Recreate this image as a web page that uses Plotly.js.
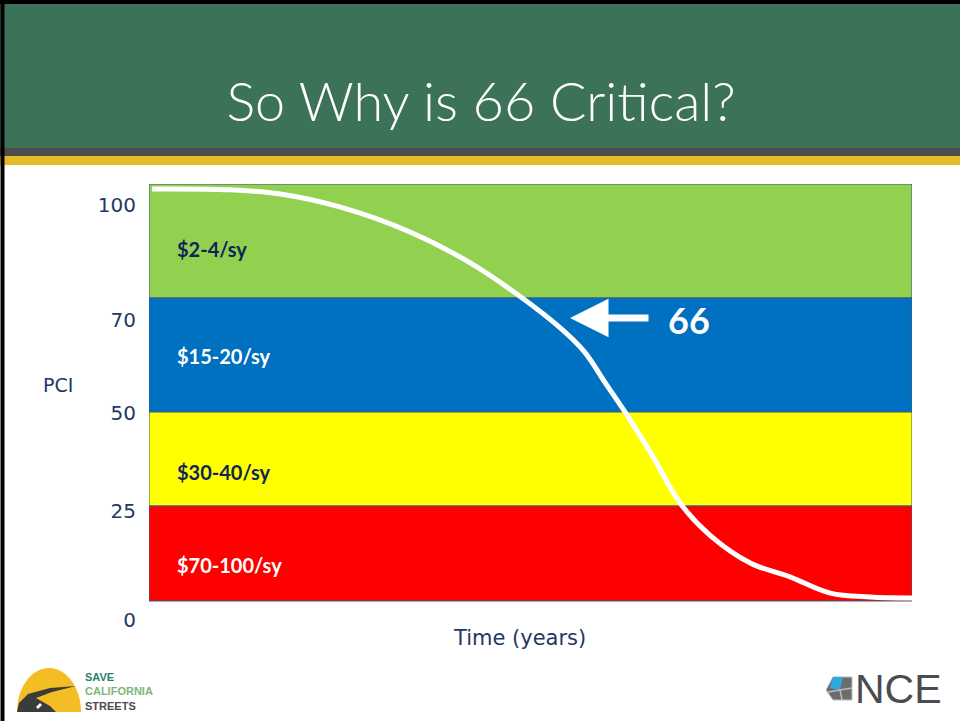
<!DOCTYPE html>
<html>
<head>
<meta charset="utf-8">
<script src="https://cdn.plot.ly/plotly-3.0.1.min.js"></script>
<style>html,body{margin:0;padding:0;background:#fff;}#chart{width:960px;height:721px;}</style>
</head>
<body>
<div id="chart"></div>
<script>
// ---- data (schematic chart units: band edges stand for PCI 100/70/50/25/0) ----
const bandLabels = ['$2-4/sy', '$15-20/sy', '$30-40/sy', '$70-100/sy'];
const bandTops = [100, 72.66, 45.32, 22.78];
const bandBottoms = [72.66, 45.32, 22.78, 0];
const bandColors = ['#92D050', '#0070C0', '#FFFF00', '#FF0000'];
const bandTextColors = ['#0F2557', '#FFFFFF', '#0F2557', '#FFFFFF'];

const yTickLabels = ['100', '70', '50', '25', '0'];
const yTickPos = [94.96, 67.39, 45.08, 21.58, -4.56];

const timeX = [0.4, 10.6, 17.2, 25.0, 34.2, 42.1, 48.6, 53.9, 57.1, 59.8, 62.4, 65.7, 69.6, 73.5, 78.8, 84.0, 89.3, 94.5, 100];
const pciY  = [98.8, 98.6, 97.6, 94.5, 88.5, 81.1, 73.1, 65.5, 59.7, 52.3, 45.3, 35.7, 23.5, 15.8, 9.1, 5.8, 1.9, 0.96, 0.72];

const criticalLabel = '66';
const titleText = 'So Why is 66 Critical?';

// ---- layout helpers (pixel -> paper) ----
const L = 149, R = 912, T = 184, B = 630;
const px = x => (x - L) / (R - L);
const py = y => (B - y) / (B - T);

const bandTrace = {
  type: 'bar',
  x: bandLabels.map(() => 50),
  y: bandTops.map((t, i) => t - bandBottoms[i]),
  base: bandBottoms,
  width: 100,
  marker: {color: bandColors, line: {color: '#3A5A8A', width: 1}},
  hoverinfo: 'skip',
  showlegend: false
};

const curveTrace = {
  type: 'scatter', mode: 'lines',
  x: timeX, y: pciY,
  line: {color: '#FFFFFF', width: 5, shape: 'spline', smoothing: 1},
  hoverinfo: 'skip', showlegend: false
};

const labelYs = [84.4, 58.8, 30.9, 8.6];
const annotations = bandLabels.map((t, i) => ({
  x: 3.4, y: labelYs[i], xref: 'x', yref: 'y', xanchor: 'left', yanchor: 'middle',
  text: '<b>' + t + '</b>', showarrow: false,
  font: {family: 'Lato, Open Sans, sans-serif', size: 20, color: bandTextColors[i]}
}));

// arrow pointing to the curve
annotations.push({
  x: px(570), y: py(318), xref: 'paper', yref: 'paper',
  ax: px(650), ay: py(318), axref: 'paper', ayref: 'paper',
  text: '', showarrow: true, arrowhead: 2, arrowsize: 1.1, arrowwidth: 7, arrowcolor: '#FFFFFF'
});
annotations.push({
  x: px(689), y: py(320), xref: 'paper', yref: 'paper', xanchor: 'center', yanchor: 'middle',
  text: '<b>' + criticalLabel + '</b>', showarrow: false,
  font: {family: 'Lato, Open Sans, sans-serif', size: 36, color: '#FFFFFF'}
});
// axis titles
annotations.push({
  x: px(58), y: py(385), xref: 'paper', yref: 'paper', xanchor: 'center', yanchor: 'middle',
  text: 'PCI', showarrow: false,
  font: {family: 'DejaVu Sans, sans-serif', size: 19, color: '#1F3864'}
});
annotations.push({
  x: px(519), y: py(638), xref: 'paper', yref: 'paper', xanchor: 'center', yanchor: 'middle',
  text: 'Time (years)', showarrow: false,
  font: {family: 'DejaVu Sans, sans-serif', size: 21, color: '#1F3864'}
});
// logo texts
annotations.push({
  x: px(83), y: py(691), xref: 'paper', yref: 'paper', xanchor: 'left', yanchor: 'middle',
  text: '<b><span style="color:#2F7F6A">SAVE</span><br><span style="color:#7DB67A">CALIFORNIA</span><br><span style="color:#4A4A4A">STREETS</span></b>',
  showarrow: false, align: 'left',
  font: {family: 'Liberation Sans, Arial, sans-serif', size: 11}
});
annotations.push({
  x: px(853), y: py(689), xref: 'paper', yref: 'paper', xanchor: 'left', yanchor: 'middle',
  text: 'NCE', showarrow: false,
  font: {family: 'Liberation Sans, Arial, sans-serif', size: 41, color: '#4B4B50'}
});

// shapes: header, borders, logo
function pathFromPx(pts) {
  return 'M' + pts.map(p => px(p[0]).toFixed(5) + ',' + py(p[1]).toFixed(5)).join(' L') + ' Z';
}
function dome(cx, cy, rx, ry) {
  const kx = 0.5523 * rx, ky = 0.5523 * ry;
  const P = (x, y) => px(x).toFixed(5) + ',' + py(y).toFixed(5);
  return 'M' + P(cx - rx, cy) +
    ' C' + P(cx - rx, cy - ky) + ' ' + P(cx - kx, cy - ry) + ' ' + P(cx, cy - ry) +
    ' C' + P(cx + kx, cy - ry) + ' ' + P(cx + rx, cy - ky) + ' ' + P(cx + rx, cy) + ' Z';
}
const shapes = [
  {type: 'rect', xref: 'paper', yref: 'paper', x0: px(0), x1: px(960), y0: py(0), y1: py(148), fillcolor: '#3C7258', line: {width: 0}, layer: 'below'},
  {type: 'rect', xref: 'paper', yref: 'paper', x0: px(0), x1: px(960), y0: py(148), y1: py(156), fillcolor: '#4D4D4D', line: {width: 0}, layer: 'below'},
  {type: 'rect', xref: 'paper', yref: 'paper', x0: px(0), x1: px(960), y0: py(156), y1: py(165), fillcolor: '#E3BB27', line: {width: 0}, layer: 'below'},
  {type: 'line', xref: 'paper', yref: 'paper', x0: px(2.5), x1: px(2.5), y0: py(0), y1: py(721), line: {color: '#000000', width: 4}},
  {type: 'line', xref: 'paper', yref: 'paper', x0: px(0), x1: px(960), y0: py(2), y1: py(2), line: {color: '#000000', width: 4}},
  // Save California Streets logo
  {type: 'path', xref: 'paper', yref: 'paper', path: dome(49, 712, 32, 44), fillcolor: '#F4BD24', line: {width: 0}},
  {type: 'path', xref: 'paper', yref: 'paper', path: pathFromPx([[17,712],[19,703],[28,694],[50,688],[76,686],[52,692],[36,698],[50,706],[56,712]]), fillcolor: '#3B3B3B', line: {width: 0}},
  {type: 'path', xref: 'paper', yref: 'paper', path: pathFromPx([[36,707],[40,703],[42,705],[38,709]]), fillcolor: '#FFFFFF', line: {width: 0}},
  // NCE icon
  {type: 'path', xref: 'paper', yref: 'paper', path: pathFromPx([[826,690],[833,677],[852,677],[852,700],[833,700]]), fillcolor: '#6B6B70', line: {color: '#BDBDBD', width: 1}},
  {type: 'path', xref: 'paper', yref: 'paper', path: pathFromPx([[833,677],[843,677],[840,690],[830,688]]), fillcolor: '#2EA8DD', line: {width: 0}},
  {type: 'line', xref: 'paper', yref: 'paper', x0: px(828), x1: px(852), y0: py(692), y1: py(688), line: {color: '#BDBDBD', width: 1.5}},
  {type: 'line', xref: 'paper', yref: 'paper', x0: px(840), x1: px(842), y0: py(690), y1: py(700), line: {color: '#BDBDBD', width: 1.5}}
];

const layout = {
  width: 960, height: 721,
  margin: {l: L, r: 960 - R, t: T, b: 721 - B, pad: 0},
  paper_bgcolor: '#FFFFFF', plot_bgcolor: 'rgba(0,0,0,0)',
  title: {
    text: titleText, x: 481 / 960, xanchor: 'center', xref: 'container',
    y: 1 - 102 / 721, yanchor: 'middle', yref: 'container',
    font: {family: 'Lato, Open Sans, sans-serif', size: 54, weight: 300, color: '#FFFFFF'}
  },
  barmode: 'overlay',
  showlegend: false,
  xaxis: {range: [0, 100], showgrid: false, zeroline: false, showticklabels: false, ticks: '', showline: false, fixedrange: true},
  yaxis: {
    range: [(601 - B) / 4.17, 100], showgrid: false, zeroline: false, showline: false,
    tickmode: 'array', tickvals: yTickPos, ticktext: yTickLabels, ticks: '', ticklabelstandoff: 12,
    tickfont: {family: 'DejaVu Sans, sans-serif', size: 20, color: '#1F3864'}, fixedrange: true
  },
  shapes: shapes,
  annotations: annotations
};

Plotly.newPlot('chart', [bandTrace, curveTrace], layout, {displayModeBar: false, staticPlot: true});
</script>
</body>
</html>
